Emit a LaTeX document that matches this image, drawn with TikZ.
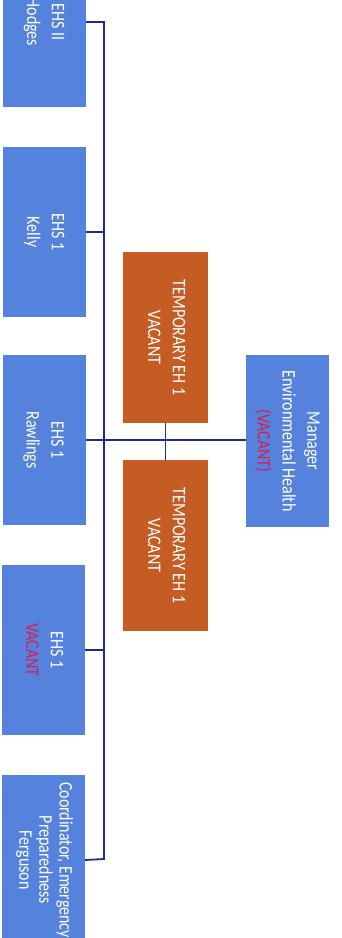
\documentclass[tikz,border=0pt]{standalone}
\usepackage{fontspec}
\setmainfont{Carlito}
\usepackage{graphicx}
\definecolor{boxblue}{RGB}{84,130,220}
\definecolor{boxorange}{RGB}{196,92,36}
\definecolor{linenavy}{RGB}{32,42,150}
\definecolor{vacred}{RGB}{214,30,84}
\newcommand{\rottext}[2][20.8]{\rotatebox{-90}{\scalebox{1}[1.2]{\fontsize{16}{#1}\selectfont\begin{tabular}{@{}c@{}}#2\end{tabular}}}}
\begin{document}
\begin{tikzpicture}[x=1pt,y=-1pt,
  bluebox/.style={draw=none,fill=boxblue,text=white,minimum width=83pt,minimum height=170pt,inner sep=0pt},
  orangebox/.style={draw=none,fill=boxorange,text=white,minimum width=85pt,minimum height=171pt,inner sep=0pt},
  conn/.style={draw=linenavy,line width=1.8pt}]
\clip (0,0) rectangle (342,938);
\fill[white] (0,0) rectangle (342,938);
% left column
\node[bluebox] (hodges) at (44.5,22) {\rottext{EHS II\\Hodges}};
\node[bluebox] (kelly) at (44.5,232) {\rottext{EHS 1\\Kelly}};
\node[bluebox] (rawlings) at (44,440) {\rottext{EHS 1\\Rawlings}};
\node[bluebox] (vacant) at (43.5,650) {\rottext{EHS 1\\\textcolor{vacred}{VACANT}}};
\node[bluebox] (coord) at (43.5,860) {\rottext[16.7]{Coordinator, Emergency\\Preparedness\\Ferguson}};
% temporary
\node[orangebox] (temp1) at (165.5,337.5) {\rottext{TEMPORARY EH 1\\VACANT}};
\node[orangebox] (temp2) at (165.5,545.5) {\rottext{TEMPORARY EH 1\\VACANT}};
% manager
\node[bluebox,minimum height=172pt] (manager) at (287.5,441) {\rottext{Manager\\Environmental Health\\\textcolor{vacred}{(VACANT)}}};
% connectors
\coordinate (spinetop) at (104,22);
\coordinate (spinebot) at (104,859);
\draw[conn] (hodges.east) -- (spinetop) -- (spinebot) -- (coord.east);
\draw[conn] (kelly.east) -- (kelly.east -| spinetop);
\draw[conn] (vacant.east) -- (vacant.east -| spinetop);
\draw[conn] (rawlings.east) -- (manager.west |- rawlings.east);
\draw[conn] (temp1.south) -- (temp2.north);
\end{tikzpicture}
\end{document}
